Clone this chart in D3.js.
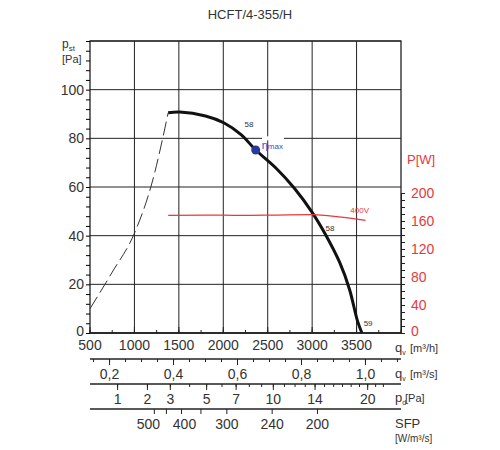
<!DOCTYPE html><html><head><meta charset="utf-8">
<script src="https://cdn.jsdelivr.net/npm/d3@7"></script>
<style>body{margin:0;background:#fff}text{font-family:"Liberation Sans Narrow","Liberation Sans",sans-serif}</style></head><body>
<svg id="c" width="500" height="450"></svg>
<script>
const title="HCFT/4-355/H";
const curveQ=[1380,1510,1800,2005,2200,2365,2600,2800,3000,3150,3310,3420,3510,3560];
const curveP=[90.5,90.8,89.2,86.4,81.5,75.2,67.5,59.5,49.6,40.5,29,18,5,0];
const stallQ=[500,750,1000,1200,1380];
const stallP=[10,25,41,62,90.5];
const powerQ=[1380,1800,2200,2600,3000,3300,3600];
const powerW=[168,168.5,168,168.5,169,166,161];
const qhTicks=[500,1000,1500,2000,2500,3000,3500];
const qsTicks=[0.2,0.4,0.6,0.8,1.0];
const pdTicks=[1,2,3,5,7,10,14,20];
const sfpTicks=[500,400,300,240,200];
const yTicks=[0,20,40,60,80,100];
const wTicks=[0,40,80,120,160,200];

const svg=d3.select("#c");
const L=90,R=401,T=41,B=333;
const x=d3.scaleLinear().domain([500,4000]).range([L,R]);
const y=d3.scaleLinear().domain([0,120]).range([B,T]);
const yw=d3.scaleLinear().domain([0,200]).range([B,193]);
svg.append("text").attr("x",250).attr("y",19).attr("text-anchor","middle").attr("font-size",13).attr("fill","#333").text(title);
const g=svg.append("g");
[1000,1500,2000,2500,3000,3500].forEach(v=>g.append("line").attr("x1",x(v)).attr("x2",x(v)).attr("y1",T).attr("y2",B).attr("stroke","#222").attr("stroke-width",1));
yTicks.concat([120]).forEach(v=>g.append("line").attr("x1",L).attr("x2",R).attr("y1",y(v)).attr("y2",y(v)).attr("stroke","#222").attr("stroke-width",1));
g.append("rect").attr("x",L).attr("y",T).attr("width",R-L).attr("height",B-T).attr("fill","none").attr("stroke","#222").attr("stroke-width",1.3);
g.append("rect").attr("x",262).attr("y",y(80)-2).attr("width",22).attr("height",4).attr("fill","#fff");
const la=svg.append("g").attr("transform",`translate(${L},0)`).call(d3.axisLeft(y).tickValues(d3.range(0,121,4)).tickSize(4).tickFormat(""));
la.select(".domain").remove();
yTicks.forEach(v=>svg.append("text").attr("x",L-6).attr("y",y(v)+(v==0?3:5)).attr("text-anchor","end").attr("font-size",14).attr("fill","#333").text(v));
svg.append("text").attr("x",62).attr("y",48).attr("font-size",12).attr("fill","#333").text("p").append("tspan").attr("font-size",8).attr("dy",3).text("st");
svg.append("text").attr("x",62).attr("y",63).attr("font-size",11).attr("fill","#333").text("[Pa]");
const ra=svg.append("g").attr("transform",`translate(${R},0)`).call(d3.axisRight(yw).tickValues(d3.range(0,206,10)).tickSize(4).tickFormat(""));
ra.selectAll("line,path").attr("stroke","#222");
wTicks.forEach(v=>svg.append("text").attr("x",R+10).attr("y",yw(v)+(v==0?3:5)).attr("font-size",14).attr("fill","#e8383d").text(v));
svg.append("text").attr("x",407).attr("y",164).attr("font-size",13).attr("fill","#e8383d").text("P[W]");
const ln=d3.line().x(d=>x(d[0])).y(d=>y(d[1])).curve(d3.curveMonotoneX);
svg.append("path").attr("d",ln(stallQ.map((q,i)=>[q,stallP[i]]))).attr("fill","none").attr("stroke","#333").attr("stroke-width",1).attr("stroke-dasharray","14,5");
svg.append("path").attr("d",d3.line().x(d=>x(d[0])).y(d=>y(d[1])).curve(d3.curveCatmullRom)(curveQ.map((q,i)=>[q,curveP[i]]))).attr("fill","none").attr("stroke","#111").attr("stroke-width",3);
svg.append("path").attr("d",d3.line().x(d=>x(d[0])).y(d=>yw(d[1])).curve(d3.curveMonotoneX)(powerQ.map((q,i)=>[q,powerW[i]]))).attr("fill","none").attr("stroke","#e8383d").attr("stroke-width",1.3);
svg.append("circle").attr("cx",x(2365)).attr("cy",y(75.2)).attr("r",4.5).attr("fill","#2b3a9a");
svg.append("text").attr("x",x(2365)+6).attr("y",y(75.2)-1).attr("font-size",11).attr("fill","#3a4fc0").text("η").append("tspan").attr("font-size",8).text("max");
svg.append("text").attr("x",x(2240)).attr("y",y(85)+1).attr("font-size",8).attr("fill","#333").text("58");
svg.append("text").attr("x",x(3150)).attr("y",y(42)).attr("font-size",8).attr("fill","#333").text("58");
svg.append("text").attr("x",x(3580)).attr("y",y(3)).attr("font-size",8).attr("fill","#333").text("59");
svg.append("text").attr("x",x(3430)).attr("y",yw(171)).attr("font-size",8).attr("fill","#e8383d").text("400V");
function baxis(yy,vals,pos,labels,down,minor){
  svg.append("line").attr("x1",L).attr("x2",R).attr("y1",yy).attr("y2",yy).attr("stroke","#222").attr("stroke-width",1.5);
  (minor||[]).forEach(v=>svg.append("line").attr("x1",pos(v)).attr("x2",pos(v)).attr("y1",yy).attr("y2",yy+(down?3:-3)).attr("stroke","#222"));
  vals.forEach((v,i)=>{svg.append("line").attr("x1",pos(v)).attr("x2",pos(v)).attr("y1",yy).attr("y2",yy+(down?6:-6)).attr("stroke","#222");
    svg.append("text").attr("x",pos(v)).attr("y",yy+(down?20:17)).attr("text-anchor","middle").attr("font-size",14).attr("fill","#333").text(labels[i]);});
}
baxis(B,qhTicks,x,qhTicks.map(String),false,d3.range(500,4001,250));
svg.append("text").attr("x",395).attr("y",352).attr("font-size",13).attr("fill","#333").text("q").append("tspan").attr("font-size",7).attr("dy",3).text("v");
svg.append("text").attr("x",410).attr("y",352).attr("font-size",11).attr("fill","#333").text("[m³/h]");
const qs=v=>x(v*3600);
baxis(359,qsTicks,qs,qsTicks.map(v=>v.toFixed(1).replace(".",",")),true,d3.range(0.15,1.12,0.05));
svg.append("text").attr("x",395).attr("y",378).attr("font-size",13).attr("fill","#333").text("q").append("tspan").attr("font-size",7).attr("dy",3).text("v");
svg.append("text").attr("x",410).attr("y",378).attr("font-size",11).attr("fill","#333").text("[m³/s]");
const pd=v=>x(3625*Math.sqrt(v/20));
baxis(384,pdTicks,pd,pdTicks.map(String),true,d3.range(1,23,1));
svg.append("text").attr("x",395).attr("y",402).attr("font-size",13).attr("fill","#333").text("p").append("tspan").attr("font-size",7).attr("dy",3).text("d");
svg.append("text").attr("x",405).attr("y",402).attr("font-size",11).attr("fill","#333").text("[Pa]");
const sf=v=>x(170*3600/v);
svg.append("line").attr("x1",L).attr("x2",R).attr("y1",409).attr("y2",409).attr("stroke","#222").attr("stroke-width",1.5);
[500,450,400,350,300,240,200].forEach(v=>svg.append("line").attr("x1",sf(v)).attr("x2",sf(v)).attr("y1",409).attr("y2",414).attr("stroke","#222"));
sfpTicks.forEach((v,i)=>svg.append("text").attr("x",sf(v)+(v==500?-6:v==400?3:0)).attr("y",429).attr("text-anchor","middle").attr("font-size",14).attr("fill","#333").text(v));
svg.append("text").attr("x",395).attr("y",428).attr("font-size",13).attr("fill","#333").text("SFP");
svg.append("text").attr("x",395).attr("y",442).attr("font-size",10).attr("fill","#333").text("[W/m³/s]");
</script></body></html>
